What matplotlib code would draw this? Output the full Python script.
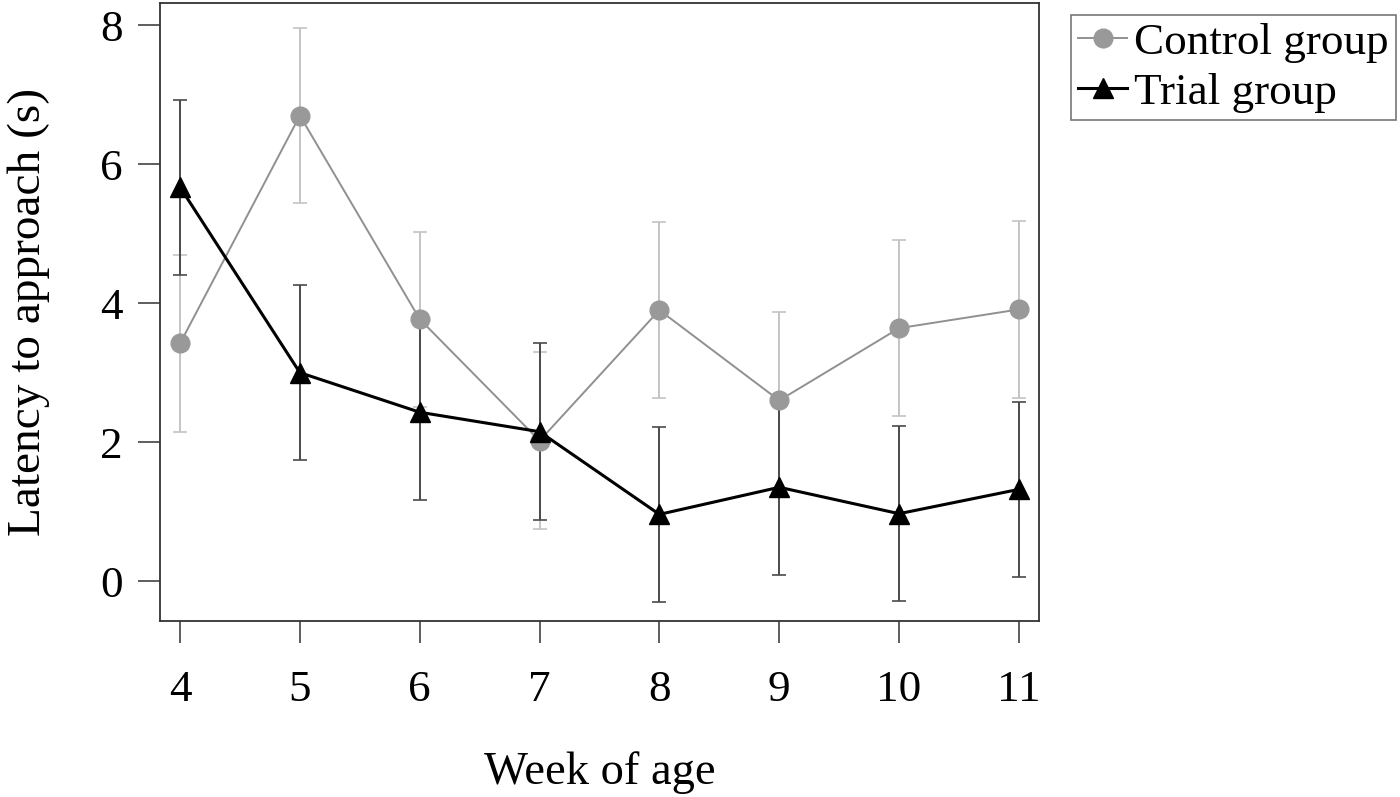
import matplotlib
matplotlib.use("Agg")
from matplotlib import pyplot as plt

plt.rcParams["font.family"] = ["Liberation Serif", "DejaVu Serif"]

weeks = [4, 5, 6, 7, 8, 9, 10, 11]
control_mean = [3.42, 6.70, 3.77, 2.02, 3.90, 2.60, 3.64, 3.91]
control_se = [1.27, 1.26, 1.26, 1.27, 1.27, 1.27, 1.27, 1.27]
trial_mean = [5.67, 3.00, 2.43, 2.15, 0.96, 1.35, 0.97, 1.32]
trial_se = [1.26, 1.26, 1.26, 1.27, 1.26, 1.26, 1.26, 1.26]

fig = plt.figure(figsize=(14, 7.97), dpi=100)
ax = fig.add_axes([0.1143, 0.2208, 0.6278, 0.7754])

ax.errorbar(weeks, control_mean, yerr=control_se, fmt="none", ecolor="#c4c4c4",
            elinewidth=1.4, capsize=5, capthick=1.2, zorder=1)
ax.errorbar(weeks, trial_mean, yerr=trial_se, fmt="none", ecolor="#4a4a4a",
            elinewidth=1.4, capsize=5, capthick=1.2, zorder=2)
ax.plot(weeks, control_mean, color="#909090", lw=1.4, marker="o", ms=13.5,
        mfc="#999999", mec="#999999", label="Control group", zorder=3)
ax.plot(weeks, trial_mean, color="black", lw=2.2, marker="^", ms=14,
        mfc="black", mec="black", label="Trial group", zorder=4)

ax.set_xlim(3.833, 11.167)
ax.set_ylim(-0.575, 8.32)
ax.set_xticks(weeks)
ax.set_yticks([0, 2, 4, 6, 8])
ax.tick_params(axis="both", direction="out", length=16, width=1.1,
               color="#333333", labelsize=32.5)
ax.tick_params(axis="x", pad=19)
ax.tick_params(axis="y", pad=11)
for s in ax.spines.values():
    s.set_color("#333333")
    s.set_linewidth(1.3)

ax.set_xlabel("Week of age", fontsize=33.5, labelpad=30)
ax.set_ylabel("Latency to approach (s)", fontsize=34, labelpad=36)

leg = fig.legend(loc="upper left", bbox_to_anchor=(0.765, 0.981), fontsize=32.5,
                 frameon=True, fancybox=False, edgecolor="#555555",
                 handlelength=1.1, handletextpad=0.15, borderpad=0.15,
                 borderaxespad=0, labelspacing=0.22)
leg.get_frame().set_linewidth(1.2)

fig.savefig("out.png", dpi=100)
